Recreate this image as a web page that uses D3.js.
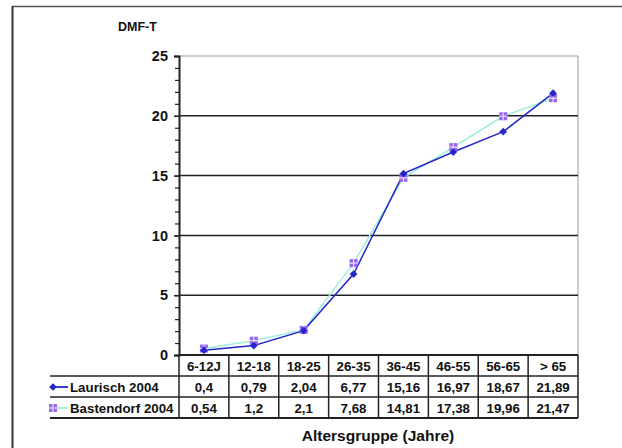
<!DOCTYPE html>
<html>
<head>
<meta charset="utf-8">
<script src="https://cdn.jsdelivr.net/npm/d3@7"></script>
<style>
  body { margin: 0; background: #fff; }
  svg { font-family: "Liberation Sans", Arial, sans-serif; font-weight: bold; }
</style>
</head>
<body>
<svg id="chart" width="622" height="448"></svg>
<script>
// data
const categories = ["6-12J", "12-18", "18-25", "26-35", "36-45", "46-55", "56-65", "> 65"];
const laurisch = [0.4, 0.79, 2.04, 6.77, 15.16, 16.97, 18.67, 21.89];
const bastendorf = [0.54, 1.2, 2.1, 7.68, 14.81, 17.38, 19.96, 21.47];
const seriesNames = ["Laurisch 2004", "Bastendorf 2004"];
const yTicks = [0, 5, 10, 15, 20, 25];

const fmt = v => String(v).replace(".", ",");

const svg = d3.select("#chart");
const plot = {left: 179, right: 578, top: 56, bottom: 355};
const rowH = 21;
const tableLeft = 50;
const cellFont = 13.3;

// outer frame (top + left only)
svg.append("line").attr("x1", 12).attr("x2", 622).attr("y1", 6.5).attr("y2", 6.5)
  .attr("stroke", "#555").attr("stroke-width", 1.5);
svg.append("line").attr("x1", 12.5).attr("x2", 12.5).attr("y1", 6).attr("y2", 448)
  .attr("stroke", "#333").attr("stroke-width", 2);

const x = d3.scaleBand().domain(categories).range([plot.left, plot.right]);
const y = d3.scaleLinear().domain([0, 25]).range([plot.bottom, plot.top]);

// plot border (top/right grey)
svg.append("line").attr("x1", plot.left).attr("x2", plot.right).attr("y1", y(25)).attr("y2", y(25))
  .attr("stroke", "#999").attr("stroke-width", 1);
svg.append("line").attr("x1", plot.right).attr("x2", plot.right).attr("y1", y(25)).attr("y2", plot.bottom)
  .attr("stroke", "#999").attr("stroke-width", 1);

// gridlines
svg.append("g").selectAll("line").data(yTicks.filter(d => d > 0 && d < 25)).enter().append("line")
  .attr("x1", plot.left).attr("x2", plot.right)
  .attr("y1", d => y(d)).attr("y2", d => y(d))
  .attr("stroke", "#222").attr("stroke-width", 1.5);

// y axis with minor ticks
const yAxisMinor = svg.append("g").attr("transform", `translate(${plot.left},0)`)
  .call(d3.axisLeft(y).ticks(25).tickSize(4).tickFormat(""));
yAxisMinor.select(".domain").remove();
yAxisMinor.selectAll("line").attr("stroke", "#222").attr("stroke-width", 1.2);

const yAxis = svg.append("g").attr("transform", `translate(${plot.left},0)`)
  .call(d3.axisLeft(y).tickValues(yTicks).tickSize(5).tickPadding(6));
yAxis.select(".domain").attr("stroke", "#222").attr("stroke-width", 2);
yAxis.selectAll("line").attr("stroke", "#222").attr("stroke-width", 1.5);
yAxis.selectAll("text").attr("font-size", 14.5).attr("font-weight", "bold").attr("fill", "#111")
  .attr("font-family", "Liberation Sans, Arial, sans-serif");

// y title
svg.append("text").attr("x", 118).attr("y", 31).attr("font-size", 12.5).attr("fill", "#111")
  .text("DMF-T");

// table
const tbl = svg.append("g");
const lineC = "#222";
tbl.append("line").attr("x1", plot.left).attr("x2", plot.right).attr("y1", plot.bottom).attr("y2", plot.bottom)
  .attr("stroke", lineC).attr("stroke-width", 2);
[1, 2, 3].forEach(r => {
  tbl.append("line").attr("x1", tableLeft).attr("x2", plot.right)
    .attr("y1", plot.bottom + r * rowH).attr("y2", plot.bottom + r * rowH)
    .attr("stroke", lineC).attr("stroke-width", r === 3 ? 2 : 1.5);
});
tbl.selectAll(".vline").data(categories.concat(["end"])).enter().append("line")
  .attr("x1", (d, i) => plot.left + i * x.bandwidth())
  .attr("x2", (d, i) => plot.left + i * x.bandwidth())
  .attr("y1", plot.bottom).attr("y2", plot.bottom + 3 * rowH)
  .attr("stroke", lineC).attr("stroke-width", 1.5);

tbl.selectAll(".hdr").data(categories).enter().append("text")
  .attr("x", d => x(d) + x.bandwidth() / 2).attr("y", plot.bottom + rowH / 2 + 5)
  .attr("text-anchor", "middle").attr("font-size", cellFont).attr("fill", "#111").text(d => d);

[laurisch, bastendorf].forEach((vals, r) => {
  tbl.selectAll(".v" + r).data(vals).enter().append("text")
    .attr("x", (d, i) => x(categories[i]) + x.bandwidth() / 2)
    .attr("y", plot.bottom + rowH * (r + 1) + rowH / 2 + 5)
    .attr("text-anchor", "middle").attr("font-size", cellFont).attr("fill", "#111").text(d => fmt(d));
  tbl.append("text").attr("x", 70).attr("y", plot.bottom + rowH * (r + 1) + rowH / 2 + 5)
    .attr("font-size", cellFont).attr("fill", "#111").text(seriesNames[r]);
});

// series styling
const blue = "#2525cc";
const aqua = "#9ceedd";
const purple = "#9a66ee";

const diamond = d3.symbol().type(d3.symbolDiamond2).size(38);

function squareMarker(g, cx, cy) {
  const s = 8;
  g.append("rect").attr("x", cx - s / 2).attr("y", cy - s / 2).attr("width", s).attr("height", s)
    .attr("fill", purple);
  g.append("line").attr("x1", cx - s / 2).attr("x2", cx + s / 2).attr("y1", cy).attr("y2", cy)
    .attr("stroke", "#e8dcff").attr("stroke-width", 1.2);
  g.append("line").attr("x1", cx).attr("x2", cx).attr("y1", cy - s / 2).attr("y2", cy + s / 2)
    .attr("stroke", "#e8dcff").attr("stroke-width", 1.2);
}

const line = d3.line()
  .x((d, i) => x(categories[i]) + x.bandwidth() / 2)
  .y(d => y(d));

svg.append("path").datum(bastendorf).attr("d", line).attr("fill", "none")
  .attr("stroke", aqua).attr("stroke-width", 1.5);
svg.append("path").datum(laurisch).attr("d", line).attr("fill", "none")
  .attr("stroke", blue).attr("stroke-width", 1.5);

const marksB = svg.append("g");
bastendorf.forEach((v, i) => squareMarker(marksB, x(categories[i]) + x.bandwidth() / 2, y(v)));

svg.append("g").selectAll("path").data(laurisch).enter().append("path")
  .attr("d", diamond)
  .attr("transform", (d, i) => `translate(${x(categories[i]) + x.bandwidth() / 2},${y(d)})`)
  .attr("fill", blue);

// legend keys
const ly1 = plot.bottom + rowH * 1.5 + 0.5;
const ly2 = plot.bottom + rowH * 2.5 + 0.5;
svg.append("line").attr("x1", 53).attr("x2", 68).attr("y1", ly1).attr("y2", ly1)
  .attr("stroke", blue).attr("stroke-width", 1.8);
svg.append("path").attr("d", diamond).attr("transform", `translate(53,${ly1})`).attr("fill", blue);
svg.append("line").attr("x1", 53).attr("x2", 68).attr("y1", ly2).attr("y2", ly2)
  .attr("stroke", aqua).attr("stroke-width", 1.8);
squareMarker(svg.append("g"), 53, ly2);

// x title
svg.append("text").attr("x", 378).attr("y", 441).attr("text-anchor", "middle")
  .attr("font-size", 15.5).attr("fill", "#111").text("Altersgruppe (Jahre)");
</script>
</body>
</html>
